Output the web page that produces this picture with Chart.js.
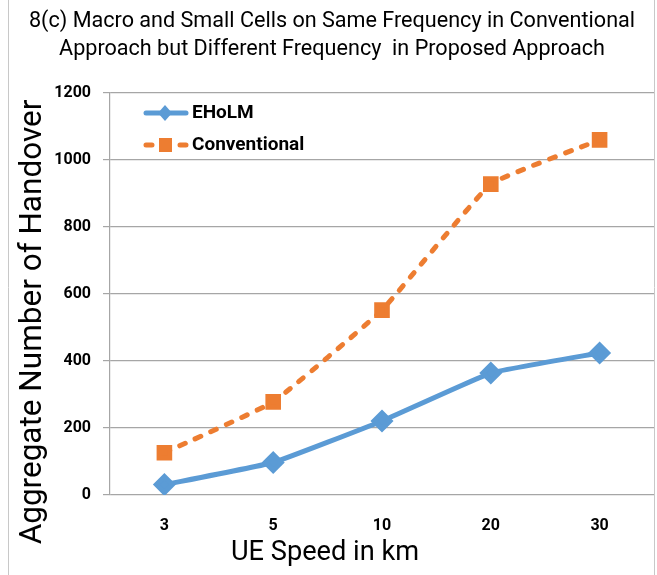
<!DOCTYPE html>
<html lang="en">
<head>
  <meta charset="utf-8">
  <title>Handover chart</title>
  <script src="https://cdn.jsdelivr.net/npm/chart.js@4.4.1/dist/chart.umd.min.js"></script>
  <style>
    html, body { margin: 0; padding: 0; background: #fff; }
    #wrap { width: 657px; height: 575px; }
  </style>
</head>
<body>
<div id="wrap"><canvas id="myChart" width="657" height="575"></canvas></div>
<script>
var speeds = ["3", "5", "10", "20", "30"];
var eholm = [31, 97, 221, 364, 424];
var conventional = [126, 278, 552, 928, 1060];
var yTicks = [0, 200, 400, 600, 800, 1000, 1200];

var fontFam = "Roboto, 'Noto Sans', sans-serif";
var blue = "#5b9bd5";
var orange = "#ed7d31";

// size a font so the text takes the given width
function fitFont(ctx, text, width, weight) {
  ctx.font = weight + " 100px " + fontFam;
  var size = 100 * width / ctx.measureText(text).width;
  ctx.font = weight + " " + size.toFixed(1) + "px " + fontFam;
}

// titles, legend inside plot and frame lines
var extras = {
  id: "extras",
  afterDraw: function(chart) {
    var ctx = chart.ctx;
    ctx.save();
    ctx.strokeStyle = "#c8c8c8";
    ctx.lineWidth = 1;
    ctx.beginPath();
    ctx.moveTo(8.5, 0); ctx.lineTo(8.5, 575);
    ctx.moveTo(654.5, 0); ctx.lineTo(654.5, 575);
    ctx.stroke();

    ctx.fillStyle = "#000";
    ctx.textAlign = "center";
    ctx.textBaseline = "middle";

    // chart title
    var t1 = "8(c) Macro and Small Cells on Same Frequency in Conventional";
    var t2 = "Approach but Different Frequency  in Proposed Approach";
    fitFont(ctx, t1, 607, "normal");
    ctx.fillText(t1, 332, 22);
    ctx.fillText(t2, 332, 50);

    // axis titles
    var xt = "UE Speed in km";
    fitFont(ctx, xt, 188, "normal");
    ctx.fillText(xt, 325, 553);

    var yt = "Aggregate Number of Handover";
    fitFont(ctx, yt, 445, "normal");
    ctx.save();
    ctx.translate(33, 322);
    ctx.rotate(-Math.PI / 2);
    ctx.fillText(yt, 0, 0);
    ctx.restore();

    // legend
    var items = [
      { label: "EHoLM", color: blue, dash: [], style: "diamond", y: 113 },
      { label: "Conventional", color: orange, dash: [6, 11], style: "square", y: 145 }
    ];
    items.forEach(function(it) {
      ctx.strokeStyle = it.color;
      ctx.lineWidth = 5;
      ctx.lineCap = "round";
      ctx.setLineDash(it.dash);
      ctx.beginPath();
      ctx.moveTo(146, it.y); ctx.lineTo(186, it.y);
      ctx.stroke();
      ctx.setLineDash([]);
      ctx.fillStyle = it.color;
      if (it.style === "diamond") {
        ctx.beginPath();
        ctx.moveTo(165, it.y - 8); ctx.lineTo(172, it.y);
        ctx.lineTo(165, it.y + 8); ctx.lineTo(158, it.y);
        ctx.closePath(); ctx.fill();
      } else {
        ctx.fillRect(159, it.y - 7, 13, 14);
      }
      ctx.fillStyle = "#000";
      ctx.font = "bold 19px " + fontFam;
      ctx.textBaseline = "middle";
      ctx.textAlign = "left";
      ctx.fillText(it.label, 192, it.y);
    });
    ctx.restore();
  }
};

new Chart("myChart", {
  type: "line",
  data: {
    labels: speeds,
    datasets: [{
      label: "EHoLM",
      data: eholm,
      borderColor: blue,
      backgroundColor: blue,
      borderWidth: 5,
      pointStyle: "rectRot",
      pointRadius: 8,
      pointHoverRadius: 8,
      tension: 0.1
    }, {
      label: "Conventional",
      data: conventional,
      borderColor: orange,
      backgroundColor: orange,
      borderWidth: 5,
      borderDash: [6, 11],
      borderCapStyle: "round",
      pointStyle: "rect",
      pointRadius: 7.5,
      pointHoverRadius: 7.5,
      tension: 0.1
    }]
  },
  options: {
    responsive: false,
    animation: false,
    layout: { autoPadding: false, padding: { left: 0, right: 3, top: 93, bottom: 0 } },
    plugins: {
      legend: { display: false },
      tooltip: { enabled: false },
      title: { display: false }
    },
    scales: {
      x: {
        offset: true,
        grid: { display: false, drawTicks: false },
        border: { display: false },
        ticks: { color: "#000", font: { family: fontFam, size: 16, weight: "bold" }, padding: 21 },
        afterFit: function(s) { s.height = 80; }
      },
      y: {
        min: 0,
        max: 1200,
        afterBuildTicks: function(s) { s.ticks = yTicks.map(function(v) { return { value: v }; }); },
        grid: { color: "#a6a6a6", lineWidth: 1.2, tickLength: 7 },
        border: { display: true, color: "#a6a6a6", width: 1.2 },
        ticks: {
          color: "#000",
          font: { family: fontFam, size: 16, weight: "bold" },
          padding: 12,
          callback: function(v) { return String(v); }
        },
        afterFit: function(s) { s.width = 110; }
      }
    }
  },
  plugins: [extras]
});
</script>
</body>
</html>
